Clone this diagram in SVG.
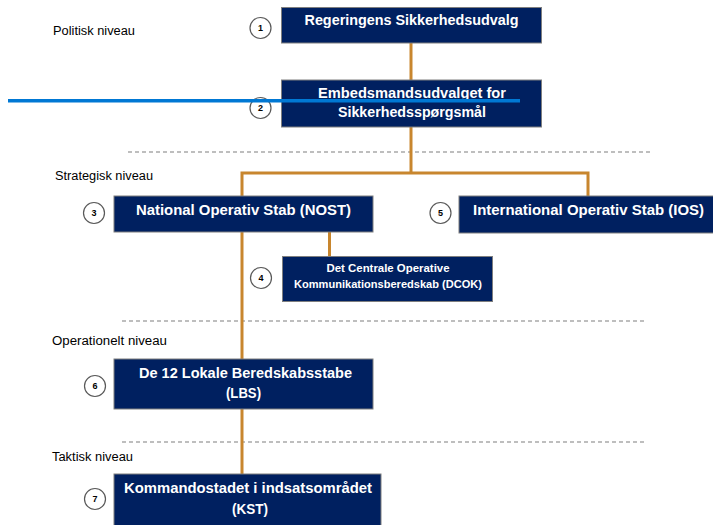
<svg xmlns="http://www.w3.org/2000/svg" width="713" height="525" viewBox="0 0 713 525">
<style>
.box{fill:#002060;stroke:#7f7f7f;stroke-width:1}
.bt{fill:#ffffff;font-family:"Liberation Sans",Arial,sans-serif;font-weight:bold;font-size:14px;text-anchor:middle}
.st{font-size:11px}
.lvl{fill:#000000;font-family:"Liberation Sans",Arial,sans-serif;font-size:12px}
.num{fill:#ffffff;stroke:#595959;stroke-width:1.2}
.nt{fill:#000000;font-family:"Liberation Sans",Arial,sans-serif;font-weight:bold;font-size:9px;text-anchor:middle}
.con{fill:none;stroke:#c8862e;stroke-width:3}
.dash{fill:none;stroke:#7f7f7f;stroke-width:1.2;stroke-dasharray:4 3}
</style>
<rect width="713" height="525" fill="#ffffff"/>
<g id="levels">
<text class="lvl" x="53" y="35" textLength="82" lengthAdjust="spacingAndGlyphs">Politisk niveau</text>
<text class="lvl" x="55" y="180" textLength="98" lengthAdjust="spacingAndGlyphs">Strategisk niveau</text>
<text class="lvl" x="52" y="345" textLength="115" lengthAdjust="spacingAndGlyphs">Operationelt niveau</text>
<text class="lvl" x="52" y="461" textLength="81" lengthAdjust="spacingAndGlyphs">Taktisk niveau</text>
<line class="dash" x1="128" y1="152" x2="650" y2="152"/>
<line class="dash" x1="122" y1="321" x2="645" y2="321"/>
<line class="dash" x1="122" y1="442" x2="645" y2="442"/>
</g>
<g id="connectors">
<line class="con" x1="411" y1="43" x2="411" y2="80"/>
<polyline class="con" points="411,127 411,173"/>
<polyline class="con" points="242,196 242,173 588,173 588,196"/>
<line class="con" x1="242" y1="232" x2="242" y2="359"/>
<line class="con" x1="329.5" y1="232" x2="329.5" y2="256"/>
<line class="con" x1="242" y1="409" x2="242" y2="474"/>
</g>
<g id="n1">
<rect class="box" x="281.5" y="7.5" width="260" height="35.5"/>
<text class="bt" x="411.5" y="25" textLength="214" lengthAdjust="spacingAndGlyphs">Regeringens Sikkerhedsudvalg</text>
<circle class="num" cx="260.5" cy="28" r="10.5"/>
<text class="nt" x="260.5" y="31">1</text>
</g>
<g id="n2">
<rect class="box" x="281.5" y="80" width="260" height="47"/>
<text class="bt" x="412" y="98" textLength="188" lengthAdjust="spacingAndGlyphs">Embedsmandsudvalget for</text>
<text class="bt" x="412" y="117" textLength="148" lengthAdjust="spacingAndGlyphs">Sikkerhedsspørgsmål</text>
<circle class="num" cx="260.5" cy="108" r="10.5"/>
<text class="nt" x="260.5" y="111">2</text>
</g>
<g id="n3">
<rect class="box" x="114" y="196" width="259" height="36"/>
<text class="bt" x="243.5" y="215" textLength="215" lengthAdjust="spacingAndGlyphs">National Operativ Stab (NOST)</text>
<circle class="num" cx="94" cy="213" r="10.5"/>
<text class="nt" x="94" y="216">3</text>
</g>
<g id="n4">
<rect class="box" x="282.5" y="256.5" width="210" height="45"/>
<text class="bt st" x="388" y="272" textLength="123" lengthAdjust="spacingAndGlyphs">Det Centrale Operative</text>
<text class="bt st" x="388" y="288" textLength="188" lengthAdjust="spacingAndGlyphs">Kommunikationsberedskab (DCOK)</text>
<circle class="num" cx="261" cy="278" r="10.5"/>
<text class="nt" x="261" y="281">4</text>
</g>
<g id="n5">
<rect class="box" x="459" y="196" width="260" height="37"/>
<text class="bt" x="588.5" y="215" textLength="231" lengthAdjust="spacingAndGlyphs">International Operativ Stab (IOS)</text>
<circle class="num" cx="440.5" cy="213" r="10.5"/>
<text class="nt" x="440.5" y="216">5</text>
</g>
<g id="n6">
<rect class="box" x="114" y="359" width="259" height="50"/>
<text class="bt" x="245.5" y="378" textLength="213" lengthAdjust="spacingAndGlyphs">De 12 Lokale Beredskabsstabe</text>
<text class="bt" x="243.5" y="398" textLength="35" lengthAdjust="spacingAndGlyphs">(LBS)</text>
<circle class="num" cx="95" cy="386" r="10.5"/>
<text class="nt" x="95" y="389">6</text>
</g>
<g id="n7">
<rect class="box" x="114" y="474" width="267" height="60"/>
<text class="bt" x="248" y="493" textLength="248" lengthAdjust="spacingAndGlyphs">Kommandostadet i indsatsområdet</text>
<text class="bt" x="250" y="514" textLength="36" lengthAdjust="spacingAndGlyphs">(KST)</text>
<circle class="num" cx="95" cy="499" r="10.5"/>
<text class="nt" x="95" y="502">7</text>
</g>
<g id="overlay">
<rect x="8" y="99" width="512" height="3.5" fill="#0078d4"/>
</g>
</svg>
